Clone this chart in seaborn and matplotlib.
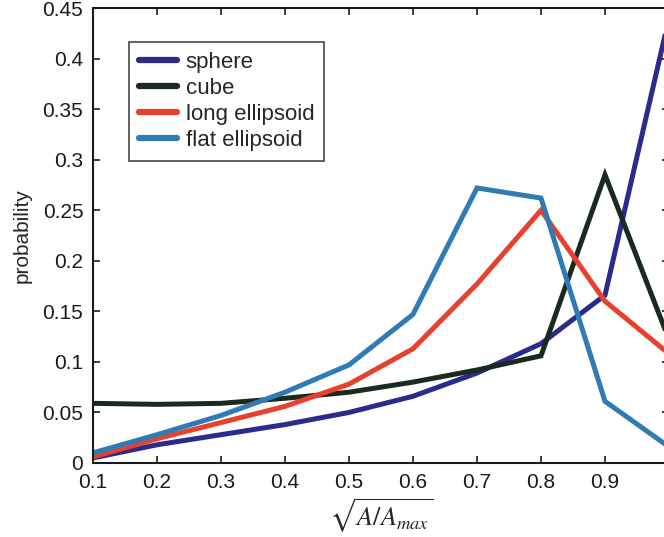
import numpy as np
import pandas as pd
import matplotlib
matplotlib.use("Agg")
import matplotlib.pyplot as plt
import seaborn as sns

# ratio sqrt(A/Amax) bins
x_vals = [0.1, 0.2, 0.3, 0.4, 0.5, 0.6, 0.7, 0.8, 0.9, 1.0]

sphere = [0.005, 0.018, 0.028, 0.038, 0.050, 0.066, 0.089, 0.118, 0.166, 0.44]
cube = [0.059, 0.058, 0.059, 0.064, 0.070, 0.080, 0.092, 0.106, 0.285, 0.122]
long_ellipsoid = [0.006, 0.024, 0.040, 0.056, 0.078, 0.113, 0.177, 0.250, 0.160, 0.108]
flat_ellipsoid = [0.010, 0.028, 0.047, 0.070, 0.097, 0.147, 0.272, 0.262, 0.061, 0.016]

series_names = ["sphere", "cube", "long ellipsoid", "flat ellipsoid"]
colors = ["#2b2b8c", "#1b2a1f", "#e8402c", "#2f7bb6"]

x_ticks = [0.1, 0.2, 0.3, 0.4, 0.5, 0.6, 0.7, 0.8, 0.9, 1.0]
x_tick_labels = ["0.1", "0.2", "0.3", "0.4", "0.5", "0.6", "0.7", "0.8", "0.9", "1"]
y_ticks = [0, 0.05, 0.1, 0.15, 0.2, 0.25, 0.3, 0.35, 0.4, 0.45]
y_tick_labels = ["0", "0.05", "0.1", "0.15", "0.2", "0.25", "0.3", "0.35", "0.4", "0.45"]


def build_frame():
    """Long-form table for seaborn."""
    rows = []
    for name, vals in zip(series_names, [sphere, cube, long_ellipsoid, flat_ellipsoid]):
        for xv, yv in zip(x_vals, vals):
            rows.append({"x": xv, "prob": yv, "shape": name})
    return pd.DataFrame(rows)


def main():
    sns.set_style("white")
    plt.rcParams["font.family"] = ["Liberation Sans", "DejaVu Sans"]
    plt.rcParams["mathtext.fontset"] = "stix"

    df = build_frame()

    fig = plt.figure(figsize=(6.64, 5.37), dpi=100)
    ax = fig.add_axes([93 / 664, 74 / 537, 576 / 664, 455 / 537])

    sns.lineplot(data=df, x="x", y="prob", hue="shape", hue_order=series_names,
                 palette=colors, linewidth=3.6, ax=ax, solid_joinstyle="miter")

    ax.set_xlim(0.1, 1.0)
    ax.set_ylim(0, 0.45)
    ax.set_xticks(x_ticks)
    ax.set_xticklabels(x_tick_labels)
    ax.set_yticks(y_ticks)
    ax.set_yticklabels(y_tick_labels)
    ax.tick_params(direction="in", length=5, width=1.2, top=True, right=True,
                   bottom=True, left=True, labelsize=15, pad=7, colors="#1a1a1a")

    for s in ax.spines.values():
        s.set_linewidth(1.5)
        s.set_color("#1a1a1a")
        s.set_visible(True)

    ax.set_ylabel("probability", fontsize=15, labelpad=8)
    ax.set_xlabel(r"$\sqrt{A/A_{max}}$", fontsize=19, labelpad=4)

    leg = ax.legend(loc="upper left", bbox_to_anchor=(0.0625, 0.925),
                    borderaxespad=0, fontsize=16, frameon=True, fancybox=False,
                    handlelength=1.7, handletextpad=0.4, labelspacing=0.22,
                    borderpad=0.45)
    leg.get_frame().set_edgecolor("#1a1a1a")
    leg.get_frame().set_linewidth(1.2)
    for line in leg.get_lines():
        line.set_linewidth(4.5)

    fig.savefig("out.png", dpi=100)
    plt.close(fig)


if __name__ == "__main__":
    main()
